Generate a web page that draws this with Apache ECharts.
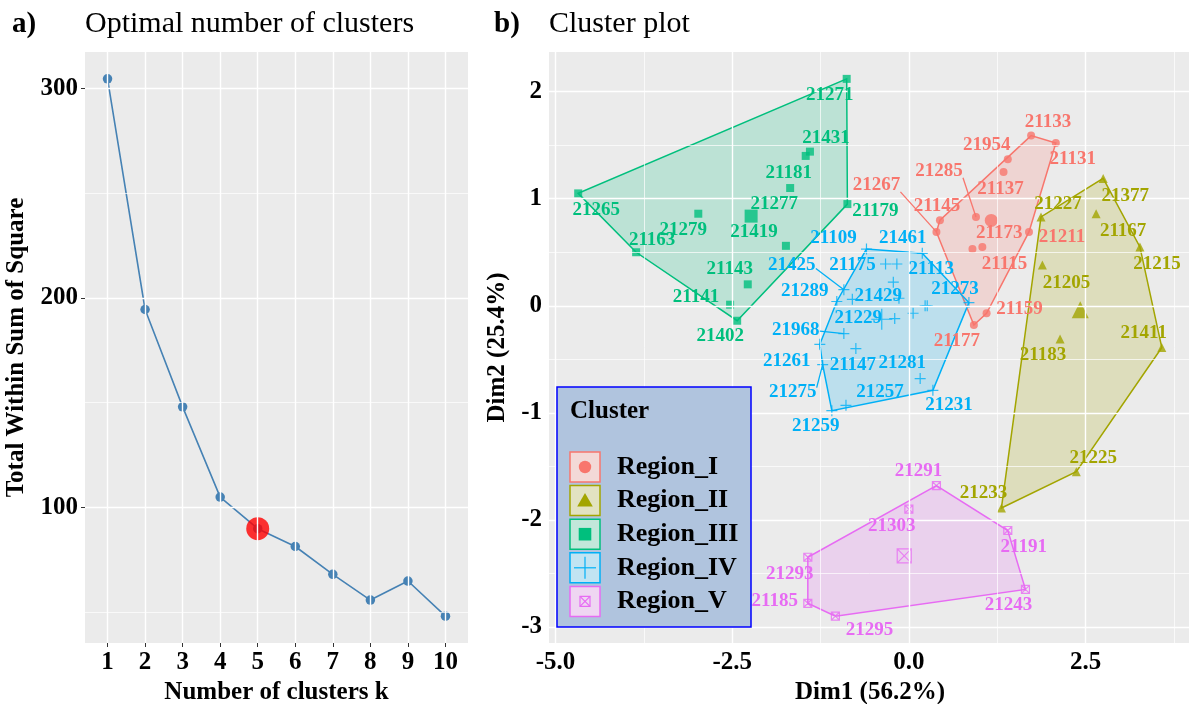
<!DOCTYPE html>
<html>
<head>
<meta charset="utf-8">
<script src="https://cdn.jsdelivr.net/npm/echarts@6/dist/echarts.min.js"></script>
<style>
  html, body { margin: 0; padding: 0; background: #ffffff; }
  #chart { width: 1189px; height: 704px; }
</style>
</head>
<body>
<div id="chart"></div>
<script>
// ---------- a) Elbow method ----------
const kValues = [1, 2, 3, 4, 5, 6, 7, 8, 9, 10];
const wssValues = [304.7, 194.5, 148.0, 104.9, 89.8, 81.3, 68.0, 55.7, 64.8, 48.0];
const optimalK = 5;
const wssTicks = [100, 200, 300];
const wssMinorTicks = [50, 150, 250];

// ---------- b) Cluster plot: PCA scores per station ----------
const clusterNames = ['Region_I', 'Region_II', 'Region_III', 'Region_IV', 'Region_V'];

const regionIIds  = ['21133', '21131', '21954', '21137', '21145', '21267', '21285', '21211', '21173', '21115', '21159', '21177'];
const regionIDim1 = [1.73, 2.08, 1.40, 1.34, 0.44, 0.39, 0.95, 1.70, 1.04, 0.90, 1.10, 0.92];
const regionIDim2 = [1.59, 1.52, 1.37, 1.25, 0.80, 0.69, 0.83, 0.69, 0.55, 0.53, -0.07, -0.18];

const regionIIIds  = ['21377', '21227', '21167', '21215', '21205', '21183', '21411', '21225', '21233'];
const regionIIDim1 = [2.75, 1.87, 2.65, 3.27, 1.89, 2.14, 3.58, 2.37, 1.31];
const regionIIDim2 = [1.19, 0.83, 0.86, 0.55, 0.38, -0.31, -0.39, -1.55, -1.89];

const regionIIIIds  = ['21271', '21431', '21181', '21277', '21279', '21419', '21265', '21163', '21143', '21141', '21402', '21179'];
const regionIIIDim1 = [-0.88, -1.40, -1.46, -1.68, -2.98, -1.74, -4.68, -3.86, -2.28, -2.53, -2.43, -0.87];
const regionIIIDim2 = [2.12, 1.44, 1.40, 1.10, 0.86, 0.56, 1.05, 0.50, 0.20, 0.01, -0.14, 0.95];

// stations without a printed label are marked null
const regionIVIds  = ['21109', '21113', '21175', '21461', '21429', '21425', '21289', '21229', null, '21273', null,
                      null, null, null, '21968', '21261', '21147', '21275', '21281', '21231', '21257', '21259'];
const regionIVDim1 = [-0.60, 0.19, -0.33, -0.17, -0.22, -0.92, -1.02, -0.80, -0.14, 0.85, 0.23,
                      0.26, 0.06, -0.20, -0.92, -1.26, -0.75, -1.22, 0.16, 0.34, -0.89, -1.09];
const regionIVDim2 = [0.53, 0.49, 0.39, 0.39, 0.22, 0.15, 0.04, 0.06, 0.07, 0.03, 0.00,
                      0.00, -0.07, -0.12, -0.26, -0.36, -0.40, -0.55, -0.68, -0.79, -0.93, -0.98];

const regionVIds  = ['21291', '21303', '21191', '21293', '21243', '21185', '21295'];
const regionVDim1 = [0.39, 0.00, 1.40, -1.43, 1.65, -1.43, -1.04];
const regionVDim2 = [-1.68, -1.90, -2.10, -2.35, -2.65, -2.78, -2.90];

const dim1Ticks = [-5, -2.5, 0, 2.5];
const dim1MinorTicks = [-3.75, -1.25, 1.25, 3.75];
const dim2Ticks = [-3, -2, -1, 0, 1, 2];
const dim2MinorTicks = [-2.5, -1.5, -0.5, 0.5, 1.5];

// ---------- styling ----------
const SERIF = "'Liberation Serif', 'Times New Roman', serif";
const colors = ['#F8766D', '#A3A500', '#00BF7D', '#00B0F6', '#E76BF3'];
const crossPath = 'path://M0,5L10,5M5,0L5,10';
const boxCrossPath = 'path://M0,0L10,0L10,10L0,10ZM0,0L10,10M10,0L0,10';
const symbols = ['circle', 'triangle', 'rect', crossPath, boxCrossPath];
const pointSizes = [8, 9, 8, 11, 8];
const centroidSizes = [13, 17, 13, 21, 14];
const outlineOnly = [false, false, false, true, true];

// label placement (pixel nudges from each point, repel-style); true = leader segment
const labelNudge = {
  '21271': [-17, 16], '21431': [16, -14], '21181': [-17, 17], '21277': [-16, 16], '21279': [-15, 16],
  '21419': [-32, -14], '21265': [18, 17], '21163': [16, -12], '21143': [-18, -15], '21141': [-34, -8],
  '21402': [-17, 15], '21179': [28, 7],
  '21133': [17, -13], '21954': [-21, -14], '21131': [17, 16], '21285': [-37, -46, true], '21137': [-3, 17],
  '21267': [-60, -47, true], '21145': [-3, -14], '21173': [17, -14], '21211': [33, 5], '21115': [32, 15],
  '21159': [33, -4], '21177': [-17, 16],
  '21377': [22, 18], '21227': [17, -13], '21167': [27, 17], '21215': [17, 17], '21205': [24, 18],
  '21183': [-17, 16], '21411': [-18, -14], '21225': [17, -14], '21233': [-18, -15],
  '21109': [-33, -11], '21461': [6, -26], '21113': [9, 16], '21175': [-33, 1], '21425': [-52, -25, true],
  '21289': [-32, -10], '21429': [-15, 14], '21273': [-14, -13], '21229': [6, 19], '21968': [-48, -3, true],
  '21261': [-33, 17], '21147': [-3, 17], '21275': [-30, 27, true], '21281': [-18, -15], '21257': [34, -13],
  '21231': [16, 15], '21259': [-16, 15],
  '21291': [-18, -14], '21303': [-17, 17], '21191': [16, 17], '21293': [-18, 17], '21243': [-17, 16],
  '21185': [-33, -2], '21295': [34, 14]
};

const clusterData = [
  [regionIIds, regionIDim1, regionIDim2],
  [regionIIIds, regionIIDim1, regionIIDim2],
  [regionIIIIds, regionIIIDim1, regionIIIDim2],
  [regionIVIds, regionIVDim1, regionIVDim2],
  [regionVIds, regionVDim1, regionVDim2]
];

function hexToRgba(hex, a) {
  const n = parseInt(hex.slice(1), 16);
  return 'rgba(' + ((n >> 16) & 255) + ',' + ((n >> 8) & 255) + ',' + (n & 255) + ',' + a + ')';
}

// convex hull (monotone chain)
function convexHull(pts) {
  const p = pts.slice().sort((a, b) => a[0] - b[0] || a[1] - b[1]);
  const cross = (o, a, b) => (a[0] - o[0]) * (b[1] - o[1]) - (a[1] - o[1]) * (b[0] - o[0]);
  const lower = [], upper = [];
  for (const q of p) {
    while (lower.length >= 2 && cross(lower[lower.length - 2], lower[lower.length - 1], q) <= 0) lower.pop();
    lower.push(q);
  }
  for (let i = p.length - 1; i >= 0; i--) {
    const q = p[i];
    while (upper.length >= 2 && cross(upper[upper.length - 2], upper[upper.length - 1], q) <= 0) upper.pop();
    upper.push(q);
  }
  upper.pop(); lower.pop();
  return lower.concat(upper);
}

const clusters = clusterData.map(([ids, d1, d2]) => {
  const pts = d1.map((x, i) => [x, d2[i]]);
  const cx = d1.reduce((s, v) => s + v, 0) / d1.length;
  const cy = d2.reduce((s, v) => s + v, 0) / d2.length;
  return { ids, pts, centroid: [cx, cy], hull: convexHull(pts) };
});

// ---------- chart ----------
const chart = echarts.init(document.getElementById('chart'));

function gridLines(xMajor, xMinor, yMajor, yMinor) {
  const line = (w) => ({ color: '#ffffff', width: w, type: 'solid' });
  const data = [];
  xMinor.forEach(v => data.push({ xAxis: v, lineStyle: line(0.7) }));
  yMinor.forEach(v => data.push({ yAxis: v, lineStyle: line(0.7) }));
  xMajor.forEach(v => data.push({ xAxis: v, lineStyle: line(1.4) }));
  yMajor.forEach(v => data.push({ yAxis: v, lineStyle: line(1.4) }));
  return { silent: true, symbol: ['none', 'none'], label: { show: false }, animation: false, data };
}

const tickLabel = { color: '#000', fontFamily: SERIF, fontWeight: 'bold', fontSize: 25 };
const axisTitle = { color: '#000', fontFamily: SERIF, fontWeight: 'bold', fontSize: 25 };
const tickStyle = { show: true, length: 4, lineStyle: { color: '#333', width: 1 } };

const series = [];

// panel a
series.push({
  type: 'scatter', xAxisIndex: 0, yAxisIndex: 0, data: [], z: 1,
  markLine: gridLines(kValues, [], wssTicks, wssMinorTicks)
});
series.push({
  type: 'line', xAxisIndex: 0, yAxisIndex: 0, z: 3,
  data: kValues.map((k, i) => [k, wssValues[i]]),
  symbol: 'circle', symbolSize: 9.5, showSymbol: true,
  itemStyle: { color: '#4682B4' }, lineStyle: { color: '#4682B4', width: 1.6 }
});
series.push({
  type: 'scatter', xAxisIndex: 0, yAxisIndex: 0, z: 4,
  data: [[optimalK, wssValues[kValues.indexOf(optimalK)]]],
  symbol: 'circle', symbolSize: 23, itemStyle: { color: '#FF0000' }
});

// panel b
series.push({
  type: 'scatter', xAxisIndex: 1, yAxisIndex: 1, data: [], z: 1,
  markLine: gridLines(dim1Ticks, dim1MinorTicks, dim2Ticks, dim2MinorTicks)
});
series.push({
  type: 'custom', xAxisIndex: 1, yAxisIndex: 1, z: 2, silent: true,
  data: clusters.map((c, i) => [c.centroid[0], c.centroid[1], i]),
  renderItem(params, api) {
    const i = api.value(2);
    const pts = clusters[i].hull.map(p => api.coord(p));
    return {
      type: 'polygon', shape: { points: pts },
      style: { fill: hexToRgba(colors[i], 0.2), stroke: colors[i], lineWidth: 1.5 }
    };
  }
});
clusters.forEach((c, i) => {
  const style = outlineOnly[i]
    ? { color: 'rgba(0,0,0,0)', borderColor: colors[i], borderWidth: 1.2 }
    : { color: colors[i] };
  series.push({
    type: 'scatter', xAxisIndex: 1, yAxisIndex: 1, z: 3, name: clusterNames[i],
    data: c.pts, symbol: symbols[i], symbolSize: pointSizes[i], itemStyle: style
  });
  series.push({
    type: 'scatter', xAxisIndex: 1, yAxisIndex: 1, z: 3,
    data: [c.centroid], symbol: symbols[i], symbolSize: centroidSizes[i], itemStyle: style
  });
});

// point labels with optional leader segments
const labelItems = [];
clusters.forEach((c, ci) => c.pts.forEach((p, pi) => {
  if (c.ids[pi]) labelItems.push([p[0], p[1], ci, pi]);
}));
series.push({
  type: 'custom', xAxisIndex: 1, yAxisIndex: 1, z: 5, silent: true,
  data: labelItems,
  renderItem(params, api) {
    const ci = api.value(2), pi = api.value(3);
    const id = clusters[ci].ids[pi];
    const nudge = labelNudge[id] || [0, -14];
    const pt = api.coord([api.value(0), api.value(1)]);
    const lx = pt[0] + nudge[0], ly = pt[1] + nudge[1];
    const children = [];
    if (nudge[2]) {
      const hw = 24, hh = 7;
      const dx = pt[0] - lx, dy = pt[1] - ly;
      let sx, sy;
      if (Math.abs(dx) > hw) {
        sx = lx + Math.sign(dx) * hw;
        sy = ly + Math.max(-hh, Math.min(hh, dy * 0.15));
      } else {
        sx = lx + dx;
        sy = ly + Math.sign(dy) * hh;
      }
      children.push({
        type: 'line', shape: { x1: sx, y1: sy, x2: pt[0], y2: pt[1] },
        style: { stroke: colors[ci], lineWidth: 1.3 }
      });
    }
    children.push({
      type: 'text', x: lx, y: ly,
      style: {
        text: id, fill: colors[ci], align: 'center', verticalAlign: 'middle',
        font: 'bold 19px ' + SERIF
      }
    });
    return { type: 'group', children };
  }
});

// legend drawn as a keyed box, above the plot panel
const LEGEND_Z = 100;
const legendX = 557, legendY = 387, legendW = 194, legendH = 240;
const keyTop = 452, keyStep = 33.6, keySize = 30, keyX = 570;
const legendChildren = [
  { type: 'rect', z: LEGEND_Z, shape: { x: legendX, y: legendY, width: legendW, height: legendH },
    style: { fill: '#B0C4DE', stroke: '#0000FF', lineWidth: 1.5 } },
  { type: 'text', z: LEGEND_Z, x: 570, y: 412,
    style: { text: 'Cluster', fill: '#000', font: 'bold 25px ' + SERIF, verticalAlign: 'middle' } }
];
clusterNames.forEach((name, i) => {
  const y0 = keyTop + i * keyStep;
  const cx = keyX + keySize / 2, cy = y0 + keySize / 2;
  const c = colors[i];
  const stroke = { stroke: c, fill: 'none', lineWidth: 1.2 };
  const el = (o) => legendChildren.push(Object.assign({ z: LEGEND_Z }, o));
  el({ type: 'rect', shape: { x: keyX, y: y0, width: keySize, height: keySize }, style: { fill: '#F2F2F2' } });
  el({ type: 'rect', shape: { x: keyX, y: y0, width: keySize, height: keySize },
       style: { fill: hexToRgba(c, 0.2), stroke: c, lineWidth: 1.5 } });
  if (i === 0) {
    el({ type: 'circle', shape: { cx, cy, r: 6.2 }, style: { fill: c } });
  } else if (i === 1) {
    el({ type: 'polygon', shape: { points: [[cx, cy - 7.5], [cx + 7.8, cy + 6], [cx - 7.8, cy + 6]] }, style: { fill: c } });
  } else if (i === 2) {
    el({ type: 'rect', shape: { x: cx - 6.3, y: cy - 6.3, width: 12.6, height: 12.6 }, style: { fill: c } });
  } else if (i === 3) {
    el({ type: 'line', shape: { x1: cx - 11, y1: cy, x2: cx + 11, y2: cy }, style: stroke });
    el({ type: 'line', shape: { x1: cx, y1: cy - 11, x2: cx, y2: cy + 11 }, style: stroke });
  } else {
    el({ type: 'rect', shape: { x: cx - 5, y: cy - 5, width: 10, height: 10 }, style: stroke });
    el({ type: 'line', shape: { x1: cx - 5, y1: cy - 5, x2: cx + 5, y2: cy + 5 }, style: stroke });
    el({ type: 'line', shape: { x1: cx + 5, y1: cy - 5, x2: cx - 5, y2: cy + 5 }, style: stroke });
  }
  el({ type: 'text', x: 617, y: cy,
       style: { text: name, fill: '#000', font: 'bold 26px ' + SERIF, verticalAlign: 'middle' } });
});

const option = {
  animation: false,
  backgroundColor: '#ffffff',
  grid: [
    { left: 85, top: 52, width: 383, height: 591, show: true, backgroundColor: '#EBEBEB', borderWidth: 0,
      containLabel: false, outerBoundsMode: 'none' },
    { left: 549, top: 52, width: 642, height: 591, show: true, backgroundColor: '#EBEBEB', borderWidth: 0,
      containLabel: false, outerBoundsMode: 'none' }
  ],
  xAxis: [
    { gridIndex: 0, type: 'value', min: 0.4, max: 10.6,
      name: 'Number of clusters k', nameLocation: 'middle', nameGap: 37, nameTextStyle: axisTitle,
      axisLine: { show: false }, splitLine: { show: false },
      axisTick: Object.assign({ customValues: kValues }, tickStyle),
      axisLabel: Object.assign({ customValues: kValues, margin: 7 }, tickLabel) },
    { gridIndex: 1, type: 'value', min: -5.093, max: 3.993,
      name: 'Dim1 (56.2%)', nameLocation: 'middle', nameGap: 37, nameTextStyle: axisTitle,
      axisLine: { show: false }, splitLine: { show: false },
      axisTick: Object.assign({ customValues: dim1Ticks }, tickStyle),
      axisLabel: Object.assign({ customValues: dim1Ticks, margin: 7, formatter: v => v.toFixed(1) }, tickLabel) }
  ],
  yAxis: [
    { gridIndex: 0, type: 'value', min: 35.2, max: 317.5,
      name: 'Total Within Sum of Square', nameLocation: 'middle', nameGap: 56, nameRotate: 90, nameTextStyle: axisTitle,
      axisLine: { show: false }, splitLine: { show: false },
      axisTick: Object.assign({ customValues: wssTicks }, tickStyle),
      axisLabel: Object.assign({ customValues: wssTicks, margin: 7 }, tickLabel) },
    { gridIndex: 1, type: 'value', min: -3.151, max: 2.371,
      name: 'Dim2 (25.4%)', nameLocation: 'middle', nameGap: 34, nameRotate: 90, nameTextStyle: axisTitle,
      axisLine: { show: false }, splitLine: { show: false },
      axisTick: Object.assign({ customValues: dim2Ticks }, tickStyle),
      axisLabel: Object.assign({ customValues: dim2Ticks, margin: 7 }, tickLabel) }
  ],
  graphic: [
    { type: 'text', left: 12, top: 10, style: { text: 'a)', fill: '#000', font: 'bold 29px ' + SERIF } },
    { type: 'text', left: 85, top: 9, style: { text: 'Optimal number of clusters', fill: '#000', font: '30px ' + SERIF } },
    { type: 'text', left: 494, top: 10, style: { text: 'b)', fill: '#000', font: 'bold 29px ' + SERIF } },
    { type: 'text', left: 549, top: 9, style: { text: 'Cluster plot', fill: '#000', font: '30px ' + SERIF } },
    { type: 'group', z: LEGEND_Z, children: legendChildren }
  ],
  series
};

chart.setOption(option);
</script>
</body>
</html>
